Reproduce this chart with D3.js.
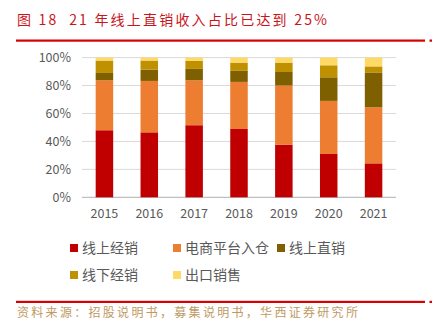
<!DOCTYPE html>
<html>
<head>
<meta charset="utf-8">
<script src="https://cdn.jsdelivr.net/npm/d3@7/dist/d3.min.js"></script>
<style>
  html, body { margin: 0; padding: 0; background: #fff; }
  svg { display: block; }
</style>
</head>
<body>
<script>
// Channel mix by year (share of revenue, %)
const years = ["2015", "2016", "2017", "2018", "2019", "2020", "2021"];
const onlineDistribution = [48.0, 46.5, 51.6, 48.9, 37.7, 31.0, 24.3];
const platformWarehouse = [35.8, 36.8, 32.2, 33.7, 42.3, 38.0, 40.1];
const onlineDirect = [5.2, 8.1, 8.1, 7.9, 9.7, 16.9, 25.0];
const offlineDistribution = [8.9, 6.5, 5.7, 5.9, 6.7, 8.6, 4.3];
const exportSales = [2.1, 2.1, 2.4, 3.6, 3.6, 5.5, 6.3];
const seriesNames = ["线上经销", "电商平台入仓", "线上直销", "线下经销", "出口销售"];
const seriesColors = ["#C00000", "#ED7D31", "#7F6000", "#BF9000", "#FFD966"];
const yTicks = [0, 20, 40, 60, 80, 100];

const seriesValues = [onlineDistribution, platformWarehouse, onlineDirect, offlineDistribution, exportSales];
const rows = years.map((y, i) => {
  const r = { year: y };
  seriesNames.forEach((n, k) => { r[n] = seriesValues[k][i]; });
  return r;
});

const W = 432, H = 324;
const svg = d3.select("body").append("svg").attr("width", W).attr("height", H);
const font = "'Noto Sans CJK SC', 'Liberation Sans', sans-serif";

// Title
svg.append("text")
  .attr("x", 17).attr("y", 25)
  .attr("font-family", font).attr("font-size", 14)
  .attr("letter-spacing", 2.2)
  .attr("fill", "#C8161D")
  .attr("xml:space", "preserve")
  .text("图 18  21 年线上直销收入占比已达到 25%");

// Header / footer rules
svg.append("rect").attr("x", 16).attr("y", 39.5).attr("width", 409).attr("height", 2.2).attr("fill", "#D80000");
svg.append("rect").attr("x", 429.5).attr("y", 39.5).attr("width", 2.5).attr("height", 2.2).attr("fill", "#D80000");
svg.append("rect").attr("x", 16).attr("y", 300.8).attr("width", 409).attr("height", 2.2).attr("fill", "#D80000");
svg.append("rect").attr("x", 429.5).attr("y", 300.8).attr("width", 2.5).attr("height", 2.2).attr("fill", "#D80000");

// Plot
const x = d3.scaleBand().domain(years).range([82, 396]).paddingInner(0.61).paddingOuter(0.305);
const y = d3.scaleLinear().domain([0, 100]).range([197.3, 57.6]);

const grid = svg.append("g");
grid.selectAll("line").data(yTicks).join("line")
  .attr("x1", 82).attr("x2", 396)
  .attr("y1", d => y(d)).attr("y2", d => y(d))
  .attr("stroke", d => d === 0 ? "#BFBFBF" : "#D9D9D9")
  .attr("stroke-width", d => d === 0 ? 1.3 : 1);

const yAxis = d3.axisLeft(y).tickValues(yTicks).tickFormat(d => d + "%").tickSize(0).tickPadding(0);
svg.append("g").attr("transform", "translate(71,0)").call(yAxis)
  .call(g => g.select(".domain").remove())
  .call(g => g.selectAll("text").attr("font-family", font).attr("font-size", 12.5).attr("fill", "#595959"));

const stack = d3.stack().keys(seriesNames)(rows);
svg.append("g").selectAll("g").data(stack).join("g")
  .attr("fill", (d, i) => seriesColors[i])
  .selectAll("rect").data(d => d).join("rect")
  .attr("x", d => x(d.data.year))
  .attr("width", x.bandwidth())
  .attr("y", d => y(Math.min(d[1], 100)))
  .attr("height", d => y(d[0]) - y(Math.min(d[1], 100)));

const xAxis = d3.axisBottom(x).tickSize(0).tickPadding(0);
svg.append("g").attr("transform", "translate(0,209)").call(xAxis)
  .call(g => g.select(".domain").remove())
  .call(g => g.selectAll("text").attr("font-family", font).attr("font-size", 12.5).attr("fill", "#595959"));

// Legend
const legendPos = [[70, 248], [173, 248], [277, 248], [70, 275], [173, 275]];
const legend = svg.append("g").selectAll("g").data(seriesNames).join("g")
  .attr("transform", (d, i) => `translate(${legendPos[i][0]},${legendPos[i][1]})`);
legend.append("rect").attr("x", 0).attr("y", -4).attr("width", 8).attr("height", 8)
  .attr("fill", (d, i) => seriesColors[i]);
legend.append("text").attr("x", 12).attr("y", 0).attr("dy", "0.36em")
  .attr("font-family", font).attr("font-size", 14).attr("fill", "#595959")
  .text(d => d);

// Source note
svg.append("text")
  .attr("x", 17).attr("y", 317)
  .attr("font-family", font).attr("font-size", 12)
  .attr("letter-spacing", 2.3)
  .attr("fill", "#BE9A63")
  .text("资料来源：招股说明书，募集说明书，华西证券研究所");
</script>
</body>
</html>
